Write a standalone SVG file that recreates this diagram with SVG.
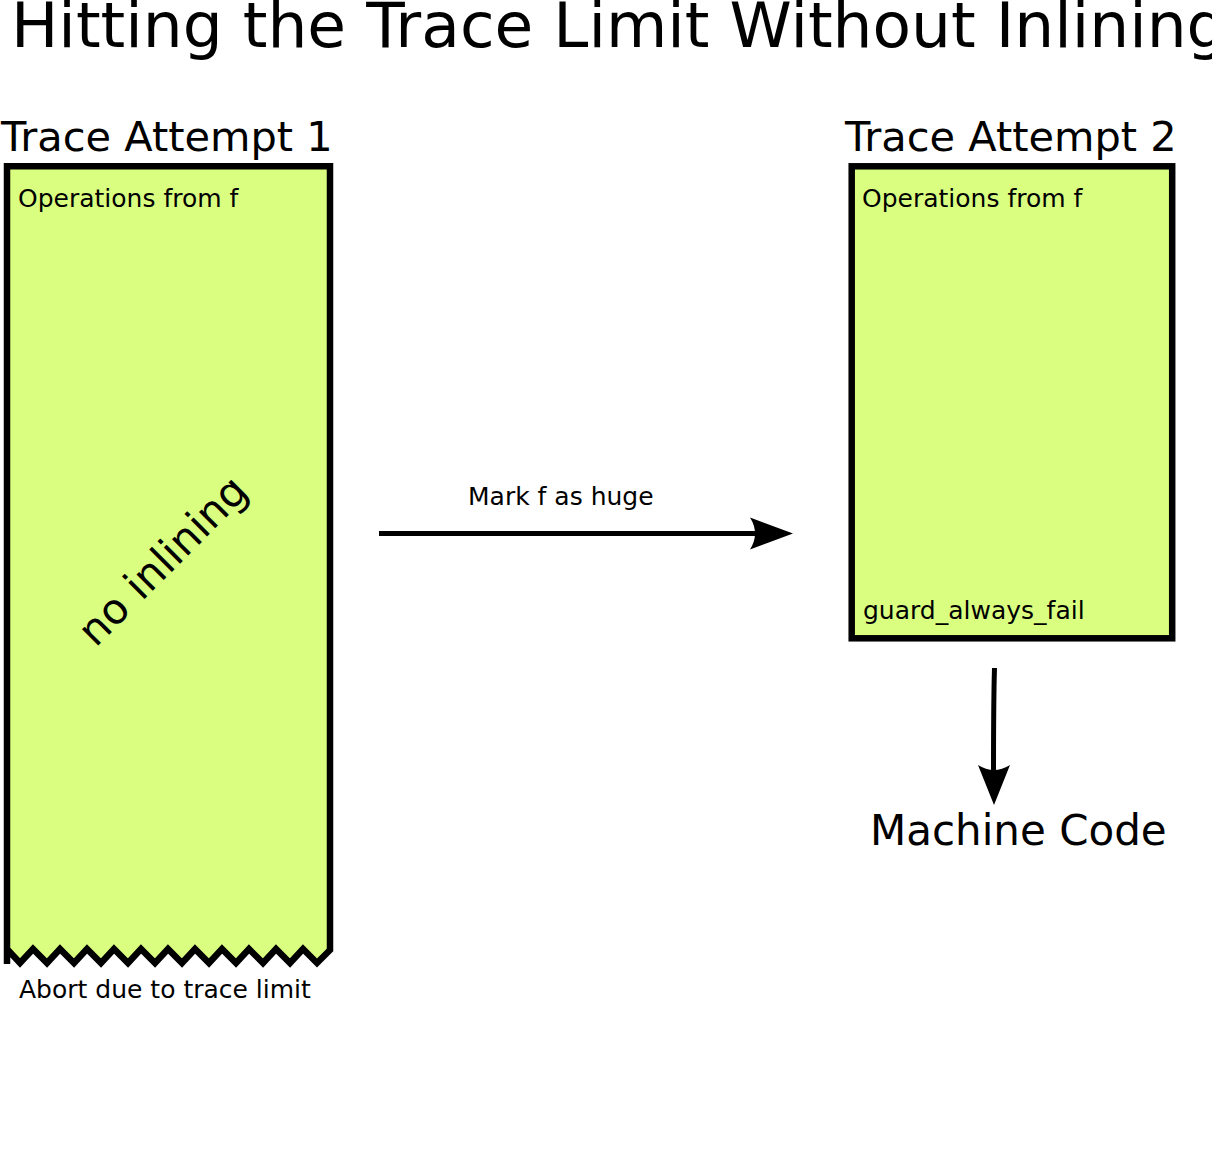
<svg xmlns="http://www.w3.org/2000/svg" width="1212" height="1176" viewBox="0 0 1212 1176">
<style>
text{font-family:"DejaVu Sans",sans-serif;fill:#000}
.big{font-size:41.5px}
.small{font-size:25px}
.box{fill:#daff80;stroke:#000;stroke-width:6.5}
.conn{fill:none;stroke:#000;stroke-width:5}
.head{fill:#000;stroke:none}
</style>
<rect width="1212" height="1176" fill="#fff"/>
<text x="11" y="47" style="font-size:63px">Hitting the Trace Limit Without Inlining</text>
<g id="attempt1">
<text class="big" x="1" y="151">Trace Attempt 1</text>
<path class="box" d="M7,964 L7,166.3 L330,166.3 L330,950 L317,963 L303,949 L290,963 L276,949 L263,963 L249,949 L236,963 L222,949 L209,963 L195,949 L182,963 L168,949 L155,963 L141,949 L128,963 L114,949 L101,963 L87,949 L74,963 L60,949 L47,963 L33,949 L20,963 L7,949 Z" stroke-linejoin="miter"/>
<text class="small" x="18" y="207">Operations from f</text>
<text transform="translate(165,563) rotate(-45)" x="0" y="11" text-anchor="middle" style="font-size:42px">no inlining</text>
<text class="small" x="19" y="998">Abort due to trace limit</text>
</g>
<g id="attempt2">
<text class="big" x="845" y="151">Trace Attempt 2</text>
<rect class="box" x="851.7" y="166.3" width="320.5" height="472"/>
<text class="small" x="862" y="207">Operations from f</text>
<text class="small" x="863" y="619">guard_always_fail</text>
</g>
<g id="machinecode">
<text x="870" y="845" style="font-size:42px">Machine Code</text>
</g>
<g id="connectors">
<path class="conn" d="M379,533.5 L760,533.5"/>
<path class="head" d="M793,533.5 L750,517.5 Q760,533.5 750,549.5 Z"/>
<text class="small" x="468" y="505">Mark f as huge</text>
<path class="conn" d="M994.5,668 C993.5,700 993.5,740 993.5,775"/>
<path class="head" d="M994,805 L978,765 Q994,775 1010,765 Z"/>
</g>
</svg>
